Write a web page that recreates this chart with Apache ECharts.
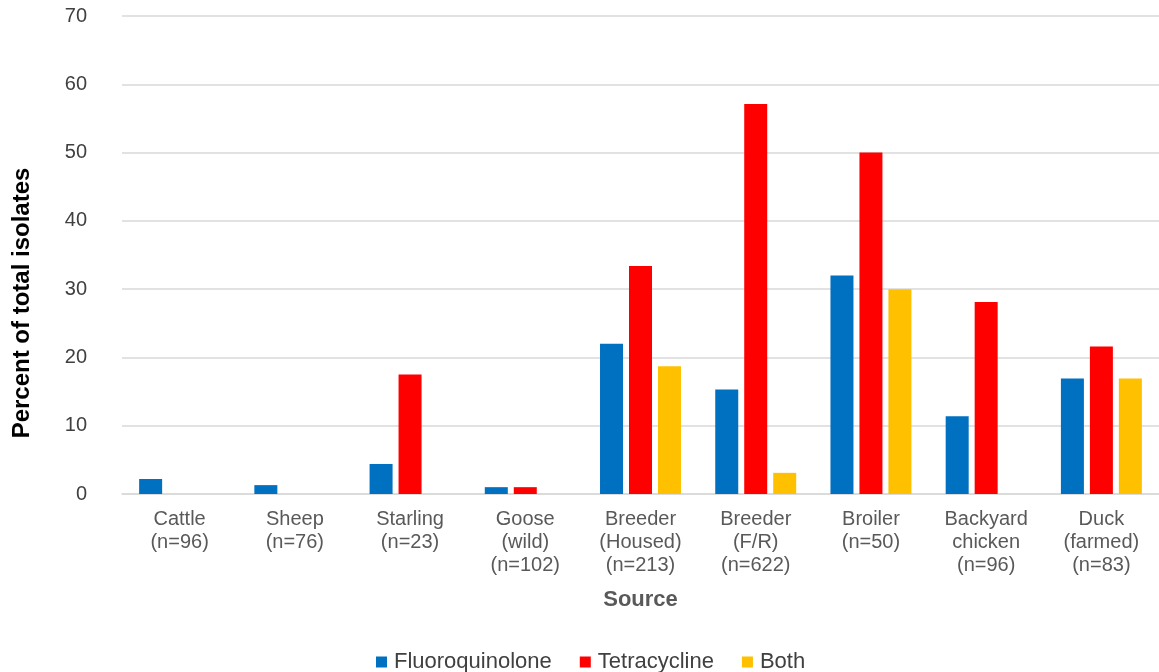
<!DOCTYPE html>
<html>
<head>
<meta charset="utf-8">
<script src="https://cdn.jsdelivr.net/npm/echarts@6/dist/echarts.min.js"></script>
<style>
html,body{margin:0;padding:0;background:#fff;}
#c{width:1159px;height:672px;}
</style>
</head>
<body>
<div id="c"></div>
<script>
const categories = ['Cattle\n(n=96)', 'Sheep\n(n=76)', 'Starling\n(n=23)', 'Goose\n(wild)\n(n=102)', 'Breeder\n(Housed)\n(n=213)', 'Breeder\n(F/R)\n(n=622)', 'Broiler\n(n=50)', 'Backyard\nchicken\n(n=96)', 'Duck\n(farmed)\n(n=83)'];
const fluoroquinolone = [2.2, 1.3, 4.4, 1.0, 22.0, 15.3, 32.0, 11.4, 16.9];
const tetracycline = [0, 0, 17.5, 1.0, 33.4, 57.1, 50.0, 28.1, 21.6];
const both = [0, 0, 0, 0, 18.7, 3.1, 30.0, 0, 16.9];
const yTicks = [0, 10, 20, 30, 40, 50, 60, 70];

const chart = echarts.init(document.getElementById('c'));
const font = 'Liberation Sans, Arial, sans-serif';
chart.setOption({
  animation: false,
  textStyle: { fontFamily: font },
  grid: { left: 122, right: 0, top: 16, bottom: 178, containLabel: false },
  legend: {
    left: 371, top: 646,
    itemWidth: 11, itemHeight: 11, itemGap: 28,
    icon: 'rect',
    textStyle: { fontSize: 22, color: '#404040', fontFamily: font, padding: [0, 0, 0, 2] },
    data: ['Fluoroquinolone', 'Tetracycline', 'Both']
  },
  xAxis: {
    type: 'category',
    data: categories,
    name: 'Source',
    nameLocation: 'middle',
    nameGap: 95,
    nameTextStyle: { fontSize: 22, fontWeight: 'bold', color: '#595959', fontFamily: font },
    axisLine: { lineStyle: { color: '#d9d9d9', width: 1.5 } },
    axisTick: { show: false },
    axisLabel: { fontSize: 20, color: '#595959', lineHeight: 23, margin: 14, interval: 0, fontFamily: font }
  },
  yAxis: {
    type: 'value',
    min: 0, max: 70, interval: 10,
    axisLine: { show: false },
    axisTick: { show: false },
    splitLine: { lineStyle: { color: '#d9d9d9', width: 1.5 } },
    axisLabel: {
      fontSize: 20, color: '#404040', margin: 35, fontFamily: font,
      formatter: v => yTicks.includes(v) ? String(v) : ''
    }
  },
  graphic: [{
    type: 'text',
    x: 22, y: 303,
    rotation: Math.PI / 2,
    style: {
      text: 'Percent of total isolates',
      font: 'bold 24px ' + font,
      fill: '#000',
      align: 'center',
      verticalAlign: 'middle'
    }
  }],
  series: [
    { name: 'Fluoroquinolone', type: 'bar', data: fluoroquinolone, barWidth: 23, barGap: '26%', itemStyle: { color: '#0070C0' } },
    { name: 'Tetracycline', type: 'bar', data: tetracycline, barWidth: 23, barGap: '26%', itemStyle: { color: '#FF0000' } },
    { name: 'Both', type: 'bar', data: both, barWidth: 23, barGap: '26%', itemStyle: { color: '#FFC000' } }
  ]
});
</script>
</body>
</html>
